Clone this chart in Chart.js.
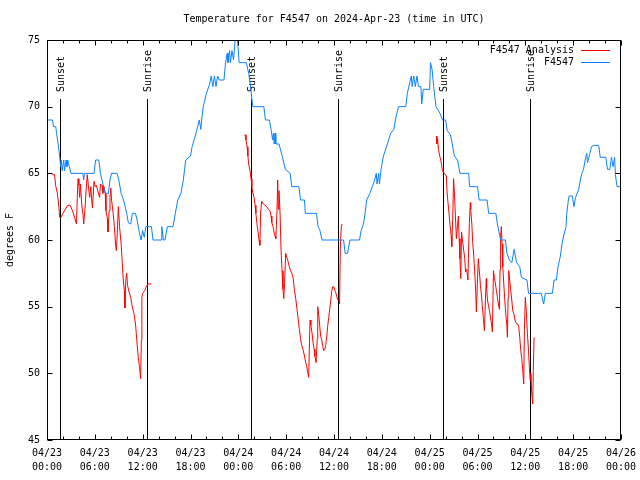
<!DOCTYPE html>
<html>
<head>
<meta charset="utf-8">
<script src="https://cdn.jsdelivr.net/npm/chart.js@4/dist/chart.umd.min.js"></script>
<style>
  html, body { margin: 0; padding: 0; background: #fff; }
</style>
</head>
<body>
<canvas id="chart" width="640" height="480"></canvas>
<script>
// hours since 04/23 00:00 UTC, temperature in F
const stationPts = [
  [0,69],[0.7,69],[0.8,68.5],[1.1,68.5],[1.2,68],[1.4,67.2],[1.6,66.2],[1.7,65.5],[1.8,66],[1.9,65.2],
  [2.1,66],[2.2,65.2],[2.4,66],[2.5,65.5],[2.6,66],[2.8,65.5],[3.0,65],[4.5,65],[4.6,64.5],[4.7,65],
  [5.9,65],[6.1,66],[6.5,66],[6.7,65],[6.9,64.5],[7.1,64],[7.3,63.5],[7.7,63.5],[7.9,64.5],[8.1,65],
  [8.8,65],[9.0,64.5],[9.3,63.5],[9.6,63],[9.8,62.5],[10.0,62],[10.2,61.3],[10.5,61.2],[10.7,62],[11.1,62],
  [11.3,61.5],[11.6,60.5],[11.8,60],[12.0,60.7],[12.2,60.2],[12.4,61],[13.1,61],[13.3,60],[14.3,60],[14.4,61],
  [14.6,60],[14.8,60],[15.1,61],[15.8,61],[16.1,62],[16.4,63],[16.8,63.5],[17.1,64.5],[17.4,66],[18.0,66.3],
  [18.2,67],[18.6,67.8],[18.9,68.5],[19.1,69],[19.3,68.3],[19.4,69],[19.6,70],[20.0,71],[20.4,71.7],[20.6,72.3],
  [20.8,71.5],[21.0,72.3],[21.2,71.5],[21.4,72.3],[21.6,72],[22.2,72],[22.4,73.3],[22.6,74],[22.7,73.3],[22.9,74.2],
  [23.0,73.3],[23.2,74.2],[23.4,73.5],[23.6,75],[23.9,75],[24.1,73.3],[25.0,73.3],[25.3,72.5],[25.5,71.7],[25.8,70],
  [27.2,70],[27.4,69],[27.9,69],[28.1,68.3],[28.3,67.5],[28.4,68],[28.5,67.2],[28.6,68],[28.7,67.2],[29.1,67.2],
  [29.5,66.3],[29.9,65.3],[30.5,65],[30.7,64],[31.6,64],[31.8,63],[32.3,63],[32.4,62],[33.8,62],[34.0,61],
  [34.2,60.8],[34.5,60],[37.2,60],[37.4,59],[37.7,59],[38.0,60],[39.2,60],[39.4,60.7],[39.7,61.2],[39.9,62],
  [40.1,63],[40.5,63.5],[40.8,64],[41.1,64.5],[41.3,65],[41.4,64.2],[41.6,65],[41.7,64.2],[41.9,65.3],[42.2,66.3],
  [42.7,67.2],[43.1,68],[43.5,68.3],[43.8,69.3],[44.1,70],[45.0,70],[45.2,71],[45.5,71.8],[45.7,72.3],[45.8,71.5],
  [46.0,72.3],[46.2,71.5],[46.4,72.3],[46.6,71.5],[46.9,71.5],[47.0,70.2],[47.2,71.3],[48.0,71.3],[48.1,73.3],[48.3,72.8],
  [48.5,71.5],[48.8,70],[49.3,69.5],[49.6,69],[50.0,69],[50.2,68.2],[50.6,67.9],[50.8,67.3],[51.1,66.3],[51.5,66],
  [51.8,65],[52.9,65],[53.0,64],[54.0,64],[54.2,63],[55.2,63],[55.4,62],[56.3,62],[56.5,61.2],[56.9,60],
  [57.5,60],[57.7,59],[58.0,58.5],[58.3,58.3],[58.6,59.3],[58.9,58.3],[59.3,58],[59.5,57.2],[60.2,57],[60.4,56],
  [62.0,56],[62.3,55.2],[62.5,56],[63.4,56],[63.6,57],[63.9,57],[64.1,58],[64.4,58.8],[64.6,59.7],[64.8,60.3],
  [65.1,61],[65.2,62],[65.4,63],[65.5,63.3],[65.9,63.3],[66.1,62.5],[66.3,63.2],[66.7,63.8],[66.9,64.5],[67.1,65],
  [67.3,65.3],[67.5,66],[67.7,66.5],[67.8,65.8],[68.1,66.5],[68.3,67],[68.6,67.1],[69.2,67.1],[69.4,66.2],[70.1,66.2],
  [70.3,65.3],[70.6,65.3],[70.8,66.2],[71.0,65.5],[71.2,66.2],[71.3,64.9],[71.5,64],[72,64]
];

const analysisDay1 = [
  [0.66,64.9],[0.95,64.9],[1.08,64.1],[1.3,63.5],[1.46,62.7],[1.58,61.7],[1.75,61.7],[2.0,62],[2.4,62.4],[2.6,62.6],
  [2.9,62.6],[3.2,62.2],[3.5,61.6],[3.7,61.2],[3.8,63.2],[3.9,64.6],[4.0,64.1],[4.1,63.2],[4.2,64.2],[4.35,62.7],
  [4.5,62],[4.6,61.2],[4.75,62.2],[4.9,63.7],[5.05,64.9],[5.2,64],[5.35,63.2],[5.5,64],[5.6,63],[5.7,62.4],
  [5.9,64.4],[6.06,64],[6.2,64.1],[6.4,63.6],[6.6,63.2],[6.7,64.2],[6.9,64.1],[7.0,63.5],[7.15,64],[7.3,63.5],
  [7.4,62.2],[7.6,61.5],[7.65,60.6],[7.8,62.2],[7.9,63.2],[8.0,63.9],[8.1,63],[8.3,62],[8.45,61],[8.6,59.7],
  [8.7,59.2],[8.8,60.3],[8.95,62.5],[9.1,61],[9.3,59.7],[9.45,58.2],[9.57,57],[9.7,56.2],[9.78,54.9],[9.87,56.9],
  [10.0,57.5],[10.1,56.6],[10.3,56.1],[10.5,55.7],[10.7,55],[10.9,54.5],[11.1,53.7],[11.2,53],[11.3,52.2],[11.45,51.2],
  [11.6,50.5],[11.75,49.6],[11.83,52.5],[11.9,55.7],[12.0,56],[12.25,56.2],[12.45,56.5],[12.67,56.7],[13.1,56.7]
];
const analysisDay2 = [
  [24.84,67.9],[24.96,67.5],[25.1,67],[25.2,66.3],[25.3,65.7],[25.46,65.2],[25.6,64.6],[25.7,64],[25.8,63.6],[25.97,63.2],
  [26.1,62.6],[26.2,62],[26.34,61.2],[26.47,60.6],[26.6,60],[26.7,59.6],[26.8,62.1],[26.93,62.9],[27.14,62.7],[27.35,62.6],
  [27.56,62.5],[27.77,62.3],[27.97,62.2],[28.1,61.8],[28.2,61.3],[28.35,61],[28.48,60.6],[28.6,60.3],[28.7,60.1],[28.85,62.2],
  [28.94,64.5],[29.0,62.3],[29.1,63.7],[29.23,62.1],[29.36,59.2],[29.48,57.7],[29.6,56.3],[29.7,55.6],[29.8,56.8],[29.94,59],
  [30.07,58.7],[30.2,58.5],[30.3,58.2],[30.5,57.8],[30.7,57.5],[30.86,57.2],[31.03,56.3],[31.2,55.6],[31.36,54.8],[31.5,54.1],
  [31.66,53.3],[31.8,52.6],[31.95,52.1],[32.1,51.8],[32.3,51.3],[32.45,50.8],[32.58,50.5],[32.7,50.1],[32.83,49.7],[32.9,51.8],
  [33.0,54],[33.1,53.6],[33.25,53],[33.37,52.3],[33.5,51.8],[33.6,51.3],[33.75,50.8],[33.9,52.6],[33.96,55],[34.1,54.3],
  [34.2,53.6],[34.33,52.8],[34.46,52.5],[34.6,52],[34.7,51.7],[34.84,51.8],[34.96,52.1],[35.1,52.8],[35.2,53.5],[35.34,54.2],
  [35.46,54.8],[35.6,55.5],[35.7,56.1],[35.84,56.5],[35.97,56.5],[36.1,56.2],[36.2,56.1],[36.34,55.8],[36.47,55.5],[36.6,55.6],
  [36.7,55.2],[36.8,59.7],[36.93,61.1],[37.0,61.2]
];
const analysisDay3 = [
  [48.84,67.8],[48.9,67.2],[49.0,67.6],[49.1,66.8],[49.26,66.3],[49.4,66],[49.5,65.6],[49.6,65.2],[49.7,65.1],[49.85,65],
  [50.1,64.8],[50.18,63.6],[50.3,62.8],[50.43,62],[50.56,61.1],[50.7,60.3],[50.77,59.5],[50.9,61.8],[51.0,64.6],[51.1,63.6],
  [51.23,61.8],[51.35,60.1],[51.5,61.1],[51.6,61.8],[51.7,60.1],[51.8,58.6],[51.9,57.1],[52.0,60.6],[52.15,59.8],[52.3,59.1],
  [52.4,58.6],[52.5,57.6],[52.65,57.8],[52.8,57],[52.86,58.6],[52.98,61.3],[53.1,62.8],[53.15,62.3],[53.3,61.1],[53.4,59.8],
  [53.53,58.8],[53.65,57.6],[53.78,56.1],[53.86,54.6],[54.0,57.1],[54.1,58.6],[54.24,57.6],[54.37,56.6],[54.5,55.8],[54.6,55.1],
  [54.74,54.1],[54.87,53.2],[55.0,55.6],[55.1,57.1],[55.15,56.4],[55.25,55.5],[55.37,55.1],[55.5,54.7],[55.6,54.3],[55.74,53.8],
  [55.87,53.1],[56.0,57.7],[56.12,57.2],[56.25,56.7],[56.37,56.2],[56.5,55.7],[56.62,55.2],[56.75,54.8],[56.83,57.8],[56.9,60.2],
  [56.99,61],[57.08,59.7],[57.17,58],[57.3,56.7],[57.4,55.7],[57.54,54.5],[57.67,53.7],[57.75,52.7],[57.84,55.7],[57.92,57.7],
  [58.04,57],[58.17,56.2],[58.3,55.5],[58.42,54.7],[58.55,54.5],[58.67,54.1],[58.8,53.8],[58.92,53.7],[59.05,53.7],[59.17,53.5],
  [59.3,52.7],[59.43,51.7],[59.55,51.1],[59.67,50.3],[59.8,49.2],[59.88,53.2],[60.0,55.7],[60.14,54.5],[60.26,53],[60.4,51.7],
  [60.5,50.5],[60.6,49.5],[60.7,50],[60.8,48.5],[60.93,47.7],[61.0,50.2],[61.1,52.7]
];

const sunHours = [1.58, 12.5, 25.55, 36.47, 49.62, 60.55];
const sunLabels = ['Sunset', 'Sunrise', 'Sunset', 'Sunrise', 'Sunset', 'Sunrise'];

const xTickLabels = [
  ['04/23','00:00'], ['04/23','06:00'], ['04/23','12:00'], ['04/23','18:00'],
  ['04/24','00:00'], ['04/24','06:00'], ['04/24','12:00'], ['04/24','18:00'],
  ['04/25','00:00'], ['04/25','06:00'], ['04/25','12:00'], ['04/25','18:00'],
  ['04/26','00:00']
];

const seriesNames = ['F4547 Analysis', 'F4547'];
const seriesColors = ['#ff0000', '#0a80ff'];

const FONT_FAMILY = '"DejaVu Sans Mono", monospace';
const FONT = '10px ' + FONT_FAMILY;

const toXY = pts => pts.map(p => ({ x: p[0], y: p[1] }));
const analysisData = [
  ...toXY(analysisDay1), { x: 18, y: null },
  ...toXY(analysisDay2), { x: 42, y: null },
  ...toXY(analysisDay3)
];

// gnuplot style frame, inward ticks, sun lines, key and title
const gnuplotFrame = {
  id: 'gnuplotFrame',
  beforeDatasetsDraw(chart) {
    const { ctx, chartArea: a, scales: { x } } = chart;
    ctx.save();
    ctx.strokeStyle = '#000';
    ctx.lineWidth = 1;
    ctx.fillStyle = '#000';
    ctx.font = FONT;
    sunHours.forEach((h, i) => {
      const px = Math.round(x.getPixelForValue(h)) + 0.5;
      ctx.beginPath();
      ctx.moveTo(px, a.top + 59);
      ctx.lineTo(px, a.bottom);
      ctx.stroke();
      ctx.save();
      ctx.translate(px + 1, a.top + 52);
      ctx.rotate(-Math.PI / 2);
      ctx.textAlign = 'left';
      ctx.textBaseline = 'middle';
      ctx.fillText(sunLabels[i], 0, 0);
      ctx.restore();
    });
    ctx.restore();
  },
  afterDraw(chart) {
    const { ctx, chartArea: a, scales: { x, y } } = chart;
    ctx.save();
    ctx.strokeStyle = '#000';
    ctx.fillStyle = '#000';
    ctx.lineWidth = 1;
    const L = a.left + 0.5, R = a.right - 0.5, T = a.top + 0.5, B = a.bottom - 0.5;

    ctx.beginPath();
    for (let h = x.min; h <= x.max; h += 2) {
      const px = Math.round(x.getPixelForValue(h)) + 0.5;
      const len = h % 6 === 0 ? 5 : 3;
      ctx.moveTo(px, B); ctx.lineTo(px, B - len);
      ctx.moveTo(px, T); ctx.lineTo(px, T + len);
    }
    y.ticks.forEach(t => {
      const py = Math.round(y.getPixelForValue(t.value)) + 0.5;
      ctx.moveTo(L, py); ctx.lineTo(L + 5, py);
      ctx.moveTo(R, py); ctx.lineTo(R - 5, py);
    });
    ctx.stroke();
    ctx.strokeRect(L, T, R - L, B - T);

    // key
    ctx.font = FONT;
    ctx.textAlign = 'right';
    ctx.textBaseline = 'middle';
    seriesNames.forEach((name, i) => {
      const ly = a.top + 10 + i * 12;
      ctx.fillText(name, a.right - 47, ly);
      ctx.strokeStyle = seriesColors[i];
      ctx.beginPath();
      ctx.moveTo(a.right - 40, Math.round(ly) + 0.5);
      ctx.lineTo(a.right - 11, Math.round(ly) + 0.5);
      ctx.stroke();
    });

    // title
    ctx.fillStyle = '#000';
    ctx.textAlign = 'center';
    ctx.fillText('Temperature for F4547 on 2024-Apr-23 (time in UTC)', (a.left + a.right) / 2, 19);
    ctx.restore();
  }
};

new Chart(document.getElementById('chart'), {
  type: 'line',
  data: {
    datasets: [
      {
        label: seriesNames[0],
        data: analysisData,
        borderColor: seriesColors[0],
        borderWidth: 1,
        pointRadius: 0,
        spanGaps: false,
        order: 1
      },
      {
        label: seriesNames[1],
        data: toXY(stationPts),
        borderColor: seriesColors[1],
        borderWidth: 1,
        pointRadius: 0,
        order: 0
      }
    ]
  },
  options: {
    responsive: false,
    animation: false,
    events: [],
    layout: { padding: { top: 40, right: 19, bottom: 0, left: 0 } },
    plugins: {
      legend: { display: false },
      tooltip: { enabled: false }
    },
    scales: {
      x: {
        type: 'linear',
        min: 0,
        max: 72,
        grid: { display: false, drawTicks: false },
        border: { display: false },
        ticks: {
          stepSize: 6,
          autoSkip: false,
          maxRotation: 0,
          padding: 6,
          color: '#000',
          font: { family: FONT_FAMILY, size: 10, lineHeight: 1.4 },
          callback: v => xTickLabels[Math.round(v / 6)]
        },
        afterFit: s => {
          s.height = 40;
          s.paddingLeft = 0;
          s.paddingRight = 0;
        }
      },
      y: {
        min: 45,
        max: 75,
        grid: { display: false, drawTicks: false },
        border: { display: false },
        ticks: {
          stepSize: 5,
          padding: 7,
          color: '#000',
          font: { family: FONT_FAMILY, size: 10 }
        },
        title: {
          display: true,
          text: 'degrees F',
          color: '#000',
          font: { family: FONT_FAMILY, size: 10 },
          padding: { top: 4, bottom: 0 }
        },
        afterFit: s => { s.width = 47; }
      }
    }
  },
  plugins: [gnuplotFrame]
});
</script>
</body>
</html>
